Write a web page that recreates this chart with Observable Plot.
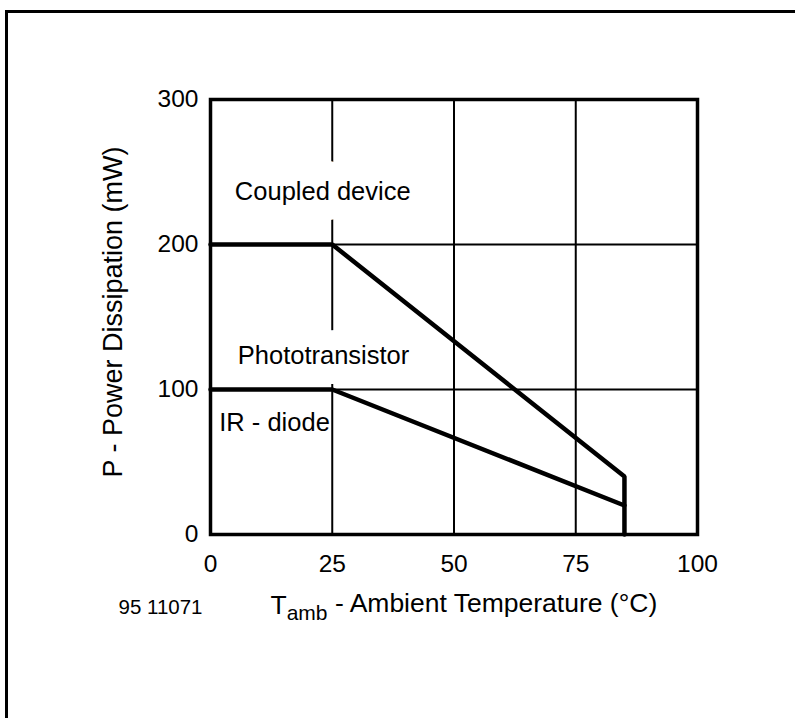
<!DOCTYPE html>
<html>
<head>
<meta charset="utf-8">
<script src="https://cdn.jsdelivr.net/npm/d3@7"></script>
<script src="https://cdn.jsdelivr.net/npm/@observablehq/plot@0.6"></script>
<style>
  html, body { margin: 0; padding: 0; background: #fff; overflow: hidden; }
  #wrap { position: relative; width: 795px; height: 718px; }
  #border { position: absolute; left: 5px; top: 10px; width: 800px; height: 720px;
            border-top: 3px solid #000; border-left: 3px solid #000; pointer-events: none; }
  #chart { position: absolute; left: 0; top: 0; }
</style>
</head>
<body>
<div id="wrap"><div id="chart"></div><div id="border"></div></div>
<script>
// ---- data ----
const xTicks = [0, 25, 50, 75, 100];
const yTicks = [0, 100, 200, 300];
const coupledTemp = [0, 25, 85, 85];
const coupledPower = [200, 200, 40, 0];
const irTemp = [0, 25, 85];
const irPower = [100, 100, 20];
const labelText = ["Coupled device", "Phototransistor", "IR - diode"];
const labelTemp = [5.0, 5.6, 1.8];
const labelPower = [236, 123, 77];
const labelHalo = [true, true, false];
const figureId = "95 11071";

const coupled = coupledTemp.map((t, i) => ({t, p: coupledPower[i]}));
const ir = irTemp.map((t, i) => ({t, p: irPower[i]}));
const labels = labelText.map((s, i) => ({s, t: labelTemp[i], p: labelPower[i], halo: labelHalo[i]}));

const font = "'Liberation Sans', Arial, Helvetica, sans-serif";

const plot = Plot.plot({
  width: 795,
  height: 718,
  marginLeft: 210,
  marginRight: 98,
  marginTop: 99,
  marginBottom: 184,
  style: {fontFamily: font, fontSize: "24px", color: "#000", background: "transparent"},
  x: {domain: [0, 100]},
  y: {domain: [0, 300]},
  marks: [
    Plot.gridX([25, 50, 75], {stroke: "#000", strokeOpacity: 1, strokeWidth: 2}),
    Plot.gridY([100, 200], {stroke: "#000", strokeOpacity: 1, strokeWidth: 2}),
    Plot.text(labels.filter(d => d.halo), {x: "t", y: "p", text: "s", textAnchor: "start",
      fontSize: 25.5, fill: "#000", stroke: "#fff", strokeWidth: 40, strokeLinejoin: "round"}),
    Plot.text(labels.filter(d => !d.halo), {x: "t", y: "p", text: "s", textAnchor: "start",
      fontSize: 25.5, fill: "#000"}),
    Plot.line(coupled, {x: "t", y: "p", stroke: "#000", strokeWidth: 4.5, strokeLinejoin: "miter"}),
    Plot.line(ir, {x: "t", y: "p", stroke: "#000", strokeWidth: 4.5, strokeLinejoin: "miter"}),
    Plot.frame({stroke: "#000", strokeWidth: 3.5}),
    Plot.axisX(xTicks, {tickSize: 0, tickPadding: 20, label: null, fontSize: 24.5}),
    Plot.axisY(yTicks, {tickSize: 0, tickPadding: 12, label: null, fontSize: 24.5}),
    Plot.text([figureId], {frameAnchor: "bottom-left", dx: -92, dy: 73, textAnchor: "start",
      lineAnchor: "middle", fontSize: 20.5}),
    Plot.text(["P - Power Dissipation (mW)"], {frameAnchor: "left", dx: -97, dy: -5, rotate: -90,
      textAnchor: "middle", lineAnchor: "middle", fontSize: 27}),
    Plot.text(["Tamb - Ambient Temperature (°C)"], {frameAnchor: "bottom-left", dx: 60, dy: 71,
      textAnchor: "start", lineAnchor: "middle", fontSize: 26.5})
  ]
});

// subscript for T_amb
d3.select(plot).selectAll("text").filter(function() {
  return this.textContent === "Tamb - Ambient Temperature (°C)";
}).each(function() {
  const t = d3.select(this);
  t.text("T");
  t.append("tspan").attr("font-size", 21).attr("dy", "0.3em").text("amb");
  t.append("tspan").attr("dy", "-0.3em").text(" - Ambient Temperature (°C)");
});

document.getElementById("chart").appendChild(plot);
</script>
</body>
</html>
